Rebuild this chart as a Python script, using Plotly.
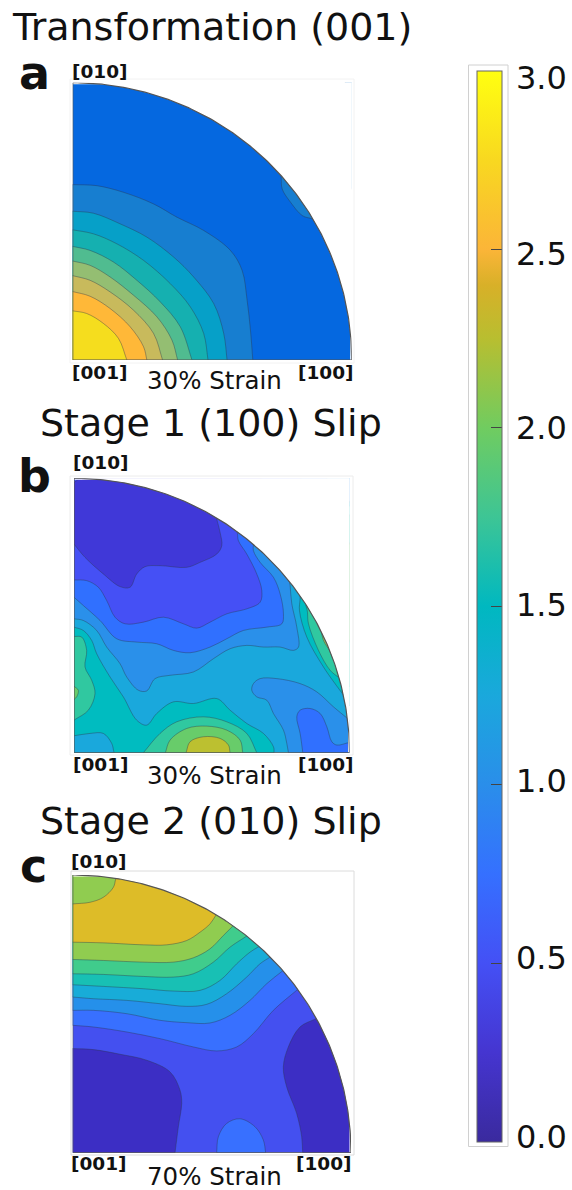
import numpy as np
import plotly.graph_objects as go

W, H = 572, 1190

# ---- colour scale ----
SCALE_VALUES = [0, .25, .5, .75, 1.0, 1.25, 1.5, 1.75, 2.0, 2.25, 2.4, 2.5, 2.75, 3.0]
SCALE_COLORS = ["#3A2A9E", "#4535D0", "#4450F5", "#3570FF", "#2A8EEA", "#1AA8DC", "#00B8C0",
                "#3DC595", "#70CC60", "#B8BE30", "#D8B028", "#FBB538", "#F8D820", "#FFFF10"]
TICK_VALUES = [0.0, 0.5, 1.0, 1.5, 2.0, 2.5, 3.0]
TICK_LABELS = ["0.0", "0.5", "1.0", "1.5", "2.0", "2.5", "3.0"]

# ---- panel a : contour boundaries (x, y), unit radius = 835 ----
A_R = 835
A_BASE = "#0568E0"
a1 = [(0,528),(72,525),(152,505),(242,470),(312,430),(392,390),(472,330),(507,270),(522,180),(532,90),(539,0)]
a2 = [(0,448),(62,442),(142,410),(222,370),(302,310),(362,250),(422,170),(452,80),(462,0)]
a3 = [(0,392),(62,380),(132,350),(212,300),(292,230),(352,160),(392,80),(405,0)]
a4 = [(0,342),(52,330),(122,295),(192,240),(262,175),(322,100),(357,0)]
a5 = [(0,298),(52,285),(112,250),(182,195),(252,130),(297,60),(314,0)]
a6 = [(0,254),(52,240),(112,205),(182,150),(242,80),(269,0)]
a7 = [(0,206),(52,192),(112,155),(172,100),(212,40),(222,0)]
a8 = [(0,148),(42,140),(92,110),(137,65),(162,0)]
a_patch = [(624,550),(627,515),(652,475),(687,435),(717,425)]

# ---- panel b : contour boundaries, unit radius = 826 ----
B_R = 826
B_BASE = "#1AA8DC"
b_l4 = [(0,403),(28,398),(68,368),(98,318),(138,268),(158,228),(193,188),(218,186),(243,223),(288,233),(358,243),(418,283),(468,313),(518,323),(568,318),(618,318),(658,308),(673,318),(668,378),(653,448),(648,503)]
b_l3 = [(0,468),(28,443),(78,398),(128,343),(188,333),(248,328),(298,308),(348,301),(408,318),(458,343),(508,368),(578,378),(623,388),(628,418),(618,478),(598,528),(558,573),(538,608),(538,628)]
b_l2 = [(0,520),(38,518),(73,498),(98,458),(123,408),(153,388),(208,393),(268,408),(328,388),(368,375),(408,393),(458,418),(518,433),(558,453),(563,488),(548,538),(518,598),(493,638),(490,660)]
b_l1 = [(0,628),(33,588),(88,538),(138,500),(168,498),(188,538),(213,560),(258,563),(338,558),(378,573),(428,598),(443,623),(438,663),(428,703)]
b_corner = [(0,813),(13,823)]
b_l4b = [(820,103),(778,138),(728,183),(678,208),(608,223),(558,223),(538,208),(533,188),(548,168),(578,158),(598,118),(628,68),(638,28),(643,0)]
b_l3b = [(686,0),(678,58),(668,108),(678,128),(708,133),(738,118),(758,78),(773,33),(788,23),(826,31)]
b_h6 = [(0,378),(28,368),(53,338),(68,298),(108,228),(148,168),(188,98),(218,83),(248,118),(298,153),(358,148),(428,163),(468,128),(518,88),(568,58),(598,18),(600,0)]
b_blob = [(0,51),(48,58),(88,58),(113,28),(120,0)]
b_h7a = [(0,350),(23,348),(38,308),(33,258),(53,218),(63,178),(43,128),(0,98)]
b_h8a = [(0,200),(13,188),(8,168),(0,160)]
b_h7b = [(208,0),(258,58),(308,93),(388,108),(458,93),(518,58),(548,0)]
b_h8b = [(274,0),(288,38),(338,73),(398,80),(458,68),(498,38),(506,0)]
b_h9 = [(336,0),(348,33),(388,48),(438,43),(463,23),(468,0)]
b_h6r = [(678,463),(676,428),(698,348),(748,258),(808,173)]
b_h7r = [(700,423),(703,388),(733,308),(768,248),(794,226)]
b_h8r = [(741,368),(748,338),(766,308)]

# ---- panel c : contour boundaries, unit radius = 835 ----
C_R = 835
C_BASE = "#4450F0"
c_d1 = [(0,313),(62,310),(142,296),(222,278),(292,243),(322,188),(327,148),(317,78),(307,0)]
c_d2 = [(730,403),(682,378),(647,318),(632,258),(642,198),(672,118),(687,48),(690,0)]
c_b3 = [(432,0),(437,48),(462,88),(502,102),(547,78),(572,38),(579,0)]
c_u3 = [(0,383),(62,378),(162,363),(262,343),(362,318),(432,306),(492,318),(542,358),(602,428),(674,490)]
c_u4 = [(0,428),(62,428),(162,418),(262,398),(342,391),(412,390),(472,413),(532,458),(582,508),(629,546)]
c_u5 = [(0,468),(62,463),(162,458),(262,448),(342,440),(402,446),(462,478),(522,528),(562,568),(592,588)]
c_u6 = [(0,505),(92,500),(212,493),(302,486),(382,488),(442,518),(492,568),(532,603),(559,620)]
c_u7 = [(0,538),(92,536),(212,530),(302,528),(362,538),(422,573),(472,618),(520,650)]
c_u8 = [(0,581),(92,578),(212,573),(302,573),(362,586),(412,613),(452,653),(479,680)]
c_u9 = [(0,633),(92,631),(212,625),(282,625),(342,638),(382,663),(412,688),(429,713)]
c_u10 = [(0,748),(52,753),(92,768),(122,798),(129,823)]

# (boundary, closure side, colour), painted in this order
A_BANDS = [(a1,"low","#177ED0"),(a_patch,"tr","#177ED0"),(a2,"low","#06A0C8"),(a3,"low","#15B0B0"),
           (a4,"low","#50BC90"),(a5,"low","#94BE72"),(a6,"low","#C8BA5C"),(a7,"low","#FFB838"),(a8,"low","#F5DD1E")]
B_BANDS = [(b_l4,"top","#2A90EA"),(b_l3,"top","#3070FF"),(b_l2,"top","#4550F5"),(b_l1,"top","#4038D8"),
           (b_corner,"top","#4550F5"),(b_l4b,"br","#2A90EA"),(b_l3b,"br","#3070FF"),
           (b_h6,"low","#00BCC0"),(b_blob,"low","#1AA8DC"),(b_h7a,"none","#30C8A0"),(b_h8a,"none","#68CC6A"),
           (b_h7b,"none","#30C8A0"),(b_h8b,"none","#68CC6A"),(b_h9,"none","#BCC030"),
           (b_h6r,"tr","#00BCC0"),(b_h7r,"tr","#30C8A0"),(b_h8r,"tr","#9DC455")]
C_BANDS = [(c_d1,"low","#3C2EC4"),(c_d2,"br","#3C2EC4"),(c_b3,"none","#3870FF"),(c_u3,"top","#3870FF"),
           (c_u4,"top","#2590EA"),(c_u5,"top","#18ACD8"),(c_u6,"top","#18C0B4"),(c_u7,"top","#40CC8C"),
           (c_u8,"top","#90CC50"),(c_u9,"top","#DDBC28"),(c_u10,"top","#90CC50")]

# ---- texts ----
TITLES = ["Transformation (001)", "Stage 1 (100) Slip", "Stage 2 (010) Slip"]
LETTERS = ["a", "b", "c"]
STRAINS = ["30% Strain", "30% Strain", "70% Strain"]
POLES = ["[010]", "[001]", "[100]"]

LINE = "rgba(45,55,75,0.5)"
FRAME = "#555"
FONT = "DejaVu Sans"


def px(x, y):
    """Reference pixel to paper fraction."""
    return x / W, 1 - y / H


def band_path(pts, side, R):
    """Closed outline: the boundary runs on just past the sector edges, and the
    closure stays outside the sector, where the axes and the mask hide it."""
    p = np.array(pts, float)
    ds = p[0] - p[1]
    de = p[-1] - p[-2]
    start = p[0] + ds / np.hypot(*ds) * 0.05 * R
    end = p[-1] + de / np.hypot(*de) * 0.05 * R
    far = {"low": [(-.1, -.1)], "top": [(1.3, 1.3), (-.1, 1.3)], "tr": [(1.3, 1.3)],
           "br": [(1.3, -.1)], "none": []}[side]
    close = np.array(far).reshape(-1, 2) * R
    return np.vstack([start, p, end, close, start])


def add_panel(fig, idx, R, base, bands):
    ax = dict(xaxis=f"x{idx}", yaxis=f"y{idx}", hoverinfo="skip", showlegend=False)
    t = np.radians(np.linspace(0, 90, 181))
    arc_x, arc_y = R * np.cos(t), R * np.sin(t)
    fig.add_trace(go.Scatter(x=np.r_[0, arc_x, 0], y=np.r_[0, arc_y, 0], mode="none", fill="toself",
                             fillcolor=base, **ax))
    for pts, side, color in bands:
        q = band_path(pts, side, R)
        fig.add_trace(go.Scatter(x=q[:, 0], y=q[:, 1], mode="lines", fill="toself", fillcolor=color,
                                 line=dict(color=LINE, width=0.8, shape="spline", smoothing=1.0, simplify=False),
                                 **ax))
    # white mask outside the quarter circle, its clipped outer edges, then the rim
    fig.add_trace(go.Scatter(x=np.r_[arc_x, 1.2 * R, 1.2 * R, R], y=np.r_[arc_y, 1.2 * R, 0, 0], mode="none",
                             fill="toself", fillcolor="white", **ax))
    fig.add_trace(go.Scatter(x=[0, R, R], y=[R, R, 0], mode="lines", line=dict(color="white", width=3),
                             cliponaxis=False, **ax))
    fig.add_trace(go.Scatter(x=arc_x, y=arc_y, mode="lines", line=dict(color=FRAME, width=1.2),
                             cliponaxis=False, **ax))
    fig.add_trace(go.Scatter(x=[0, 0, R], y=[R, 0, 0], mode="lines", line=dict(color=FRAME, width=1.2),
                             cliponaxis=False, **ax))


fig = go.Figure()
add_panel(fig, 1, A_R, A_BASE, A_BANDS)
add_panel(fig, 2, B_R, B_BASE, B_BANDS)
add_panel(fig, 3, C_R, C_BASE, C_BANDS)

cs = [[v / 3, c] for v, c in zip(SCALE_VALUES, SCALE_COLORS)]
cb_x, cb_y = px(477, 1141.7)
fig.add_trace(go.Scatter(
    x=[None, None], y=[None, None], xaxis="x1", yaxis="y1", mode="markers", showlegend=False, hoverinfo="skip",
    marker=dict(color=[0, 3], cmin=0, cmax=3, colorscale=cs, showscale=True,
                colorbar=dict(x=cb_x, xanchor="left", xpad=0, ypad=0, y=cb_y, yanchor="bottom",
                              lenmode="pixels", len=1071, thickness=25, thicknessmode="pixels",
                              outlinecolor="#666", outlinewidth=1, borderwidth=0,
                              tickmode="array", tickvals=TICK_VALUES, ticktext=[""] * len(TICK_VALUES),
                              ticks="inside", ticklen=11, tickcolor="#444", tickwidth=1))))


def axes(left, right, top, bottom, R):
    x0, y0 = px(left, bottom)
    x1, y1 = px(right, top)
    common = dict(range=[0, R], showgrid=False, zeroline=False, showticklabels=False, ticks="", showline=False,
                  fixedrange=True)
    return dict(domain=[x0, x1], **common), dict(domain=[y0, y1], **common)


annotations = []


def text(x, y, s, size, bold=False, anchor="left"):
    fx, fy = px(x, y)
    annotations.append(dict(x=fx, y=fy, xref="paper", yref="paper", text=f"<b>{s}</b>" if bold else s,
                            showarrow=False, xanchor=anchor, yanchor="middle", borderpad=0,
                            font=dict(family=FONT, size=size, color="#111")))


for (x, y), s in zip([(11, 27), (39, 423), (39, 821)], TITLES):
    text(x, y, s, 38)
for (x, y), s in zip([(18, 73), (17, 476), (19, 866)], LETTERS):
    text(x, y, s, 46, bold=True)
for (x, y), s in zip([(146, 381), (146, 775), (146, 1176)], STRAINS):
    text(x, y, s, 24.5)
for ox, y0, y1, xr in [(71, 71, 372, 297), (72, 463, 764, 297), (70, 861, 1163, 295)]:
    text(ox, y0, POLES[0], 18.5, bold=True)
    text(ox, y1, POLES[1], 18.5, bold=True)
    text(xr, y1, POLES[2], 18.5, bold=True)
for s, y in zip(TICK_LABELS, [1137, 958, 781, 605, 428, 254, 78]):
    text(515, y, s, 32)


def rect(x0, y0, x1, y1, color):
    ax_, ay = px(x0, y0)
    bx, by = px(x1, y1)
    return dict(type="rect", xref="paper", yref="paper", x0=ax_, y0=ay, x1=bx, y1=by,
                line=dict(color=color, width=1), layer="below")


xa1, ya1 = axes(72.7, 351.7, 82.7, 360, A_R)
xa2, ya2 = axes(74, 349.5, 478.3, 752.7, B_R)
xa3, ya3 = axes(72.7, 351, 875, 1152.7, C_R)

fig.update_layout(
    width=W, height=H, autosize=False, margin=dict(l=0, r=0, t=0, b=0), showlegend=False,
    paper_bgcolor="white", plot_bgcolor="white",
    xaxis=xa1, yaxis=ya1, xaxis2=xa2, yaxis2=ya2, xaxis3=xa3, yaxis3=ya3,
    annotations=annotations,
    shapes=[rect(70, 79, 354, 363, "#f2f2f2"), rect(70, 476, 353, 755, "#ececec"), rect(71, 871, 354, 1155, "#dcdcdc"),
            rect(468.5, 65, 508, 1146.5, "#d0d0d0")],
)
fig.write_html("out.html", config={"displayModeBar": False},
               post_script="document.body.style.margin='0';document.body.style.overflow='hidden';")
